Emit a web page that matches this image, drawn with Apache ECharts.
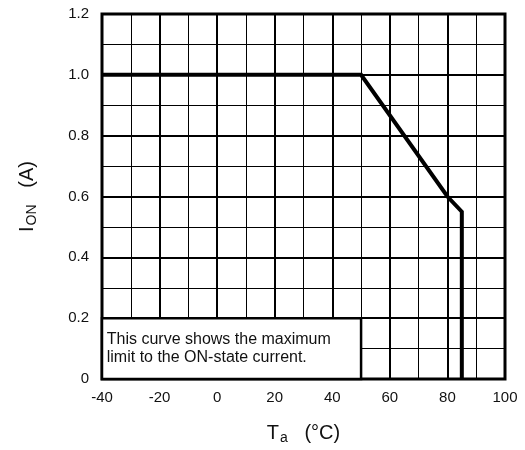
<!DOCTYPE html>
<html>
<head>
<meta charset="utf-8">
<script src="https://cdn.jsdelivr.net/npm/echarts@6/dist/echarts.min.js"></script>
<style>
html,body{margin:0;padding:0;background:#fff;}
#c{width:525px;height:450px;}
</style>
</head>
<body>
<div id="c"></div>
<script>
// Data
var curveTemp = [-40, 50, 80, 85, 85];
var curveCurrent = [1.0, 1.0, 0.6, 0.55, 0.0];
var xTicks = [-40, -20, 0, 20, 40, 60, 80, 100];
var yTicks = ['0', '0.2', '0.4', '0.6', '0.8', '1.0', '1.2'];
var noteBox = [[-40, 0], [50, 0.2]];
var noteText = 'This curve shows the maximum\nlimit to the ON-state current.';

var seriesData = curveTemp.map(function (t, i) { return [t, curveCurrent[i]]; });
var font = 'Liberation Sans, Arial, sans-serif';

var chart = echarts.init(document.getElementById('c'), null, {renderer: 'canvas'});
chart.setOption({
  animation: false,
  backgroundColor: '#fff',
  grid: {left: 102, right: 20, top: 14, bottom: 71, show: true, borderColor: '#000', borderWidth: 3, backgroundColor: 'transparent', containLabel: false, outerBoundsMode: 'none'},
  xAxis: {
    type: 'value', min: xTicks[0], max: xTicks[xTicks.length - 1], interval: 20,
    name: '{m|T}{s|a}{m|   (°C)}', nameLocation: 'middle', nameGap: 42,
    nameTextStyle: {rich: {m: {fontFamily: font, fontSize: 20, color: '#111'}, s: {fontFamily: font, fontSize: 14, color: '#111', verticalAlign: 'bottom', padding: [10, 0, 0, 1]}}},
    axisLine: {show: false}, axisTick: {show: false},
    axisLabel: {fontFamily: font, fontSize: 15, color: '#111', margin: 11},
    splitLine: {show: true, lineStyle: {color: '#000', width: 2}},
    minorTick: {show: false, splitNumber: 2},
    minorSplitLine: {show: true, lineStyle: {color: '#000', width: 1}}
  },
  yAxis: {
    type: 'value', min: 0, max: 1.2, interval: 0.2,
    name: '{m|I}{s|ON}{m|   (A)}', nameLocation: 'middle', nameGap: 63, nameRotate: 90,
    nameTextStyle: {rich: {m: {fontFamily: font, fontSize: 20, color: '#111'}, s: {fontFamily: font, fontSize: 14, color: '#111', verticalAlign: 'bottom', padding: [10, 0, 0, 1]}}},
    axisLine: {show: false}, axisTick: {show: false},
    axisLabel: {fontFamily: font, fontSize: 15, color: '#111', margin: 13,
      formatter: function (v) { var i = Math.round(v / 0.2); return yTicks[i] !== undefined ? yTicks[i] : ''; }},
    splitLine: {show: true, lineStyle: {color: '#000', width: 2}},
    minorTick: {show: false, splitNumber: 2},
    minorSplitLine: {show: true, lineStyle: {color: '#000', width: 1}}
  },
  series: [{
    type: 'line',
    data: seriesData,
    symbol: 'none',
    lineStyle: {color: '#000', width: 4, join: 'miter'},
    z: 5,
    markArea: {
      silent: true,
      itemStyle: {color: '#fff', borderColor: '#000', borderWidth: 2.5, opacity: 1},
      label: {show: true, position: 'insideLeft', formatter: noteText, fontFamily: font, fontSize: 16, lineHeight: 18, color: '#111', offset: [1, 0]},
      data: [[{coord: noteBox[0]}, {coord: noteBox[1]}]]
    }
  }]
});
</script>
</body>
</html>
